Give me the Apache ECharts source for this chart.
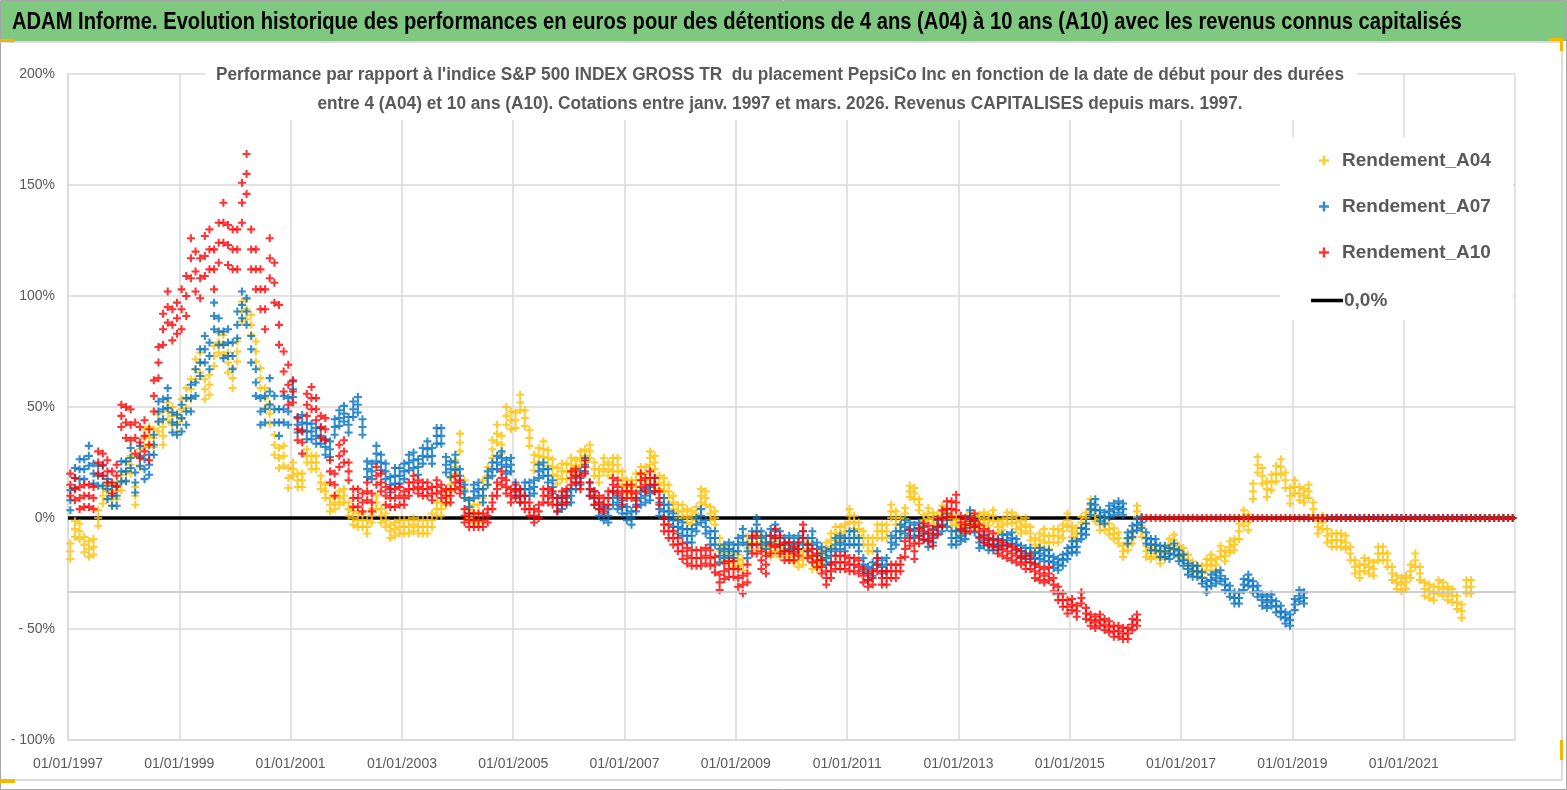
<!DOCTYPE html>
<html>
<head>
<meta charset="utf-8">
<title>ADAM Informe - PepsiCo vs S&amp;P 500</title>
<script src="https://cdn.jsdelivr.net/npm/echarts@6/dist/echarts.min.js"></script>
<style>
  html, body { margin: 0; padding: 0; background: #fff; }
  #chart { width: 1567px; height: 790px; }
</style>
</head>
<body>
<div id="chart"></div>
<script>
// monthly readings (in %), one row per year, starting January 1997
var startYear = 1997;

var rendA04 = [
  -15, -5, -6, -12, -14, -13, 0, 10, 12, 9, 12, 16,
  21, 24, 10, 27, 36, 37, 36, 43, 37, 48, 46, 43,
  49, 54, 58, 67, 70, 58, 60, 73, 79, 78, 70, 63,
  75, 93, 94, 87, 75, 63, 54, 47, 33, 27, 28, 18,
  22, 17, 17, 28, 25, 25, 16, 12, 6, 7, 9, 10,
  4, 0, -1, -1, -4, 1, 7, 1, -1, -6, -5, -4,
  -4, -4, -3, -4, -4, -4, -1, 4, 4, 9, 15, 23,
  34, 13, 4, 2, 2, 13, 19, 31, 38, 33, 46, 44,
  44, 52, 45, 36, 25, 28, 31, 27, 23, 19, 21, 21,
  24, 23, 27, 28, 30, 22, 19, 24, 22, 24, 24, 18,
  14, 14, 17, 20, 20, 27, 25, 16, 15, 12, 7, 3,
  3, 1, 0, 2, 10, 9, 2, 0, -12, -16, -17, -19,
  -19, -21, -11, -12, -9, -11, -13, -15, -13, -15, -14, -15,
  -17, -19, -18, -14, -20, -20, -18, -14, -10, -7, -7, -6,
  1, -2, -5, -9, -12, -12, -6, -6, -6, 3, 0, -3,
  2, 12, 11, 6, -1, 2, 0, -1, 3, 2, -1, -3,
  -6, -4, 0, -2, -1, 0, -1, 1, -4, -3, 0, 0,
  -2, -4, -3, -7, -12, -10, -8, -11, -8, -8, -6, -1,
  -6, -7, -2, 0, 6, 1, -3, -3, -5, -7, -9, -15,
  -12, -9, 3, -6, -15, -16, -15, -18, -16, -12, -10, -15,
  -16, -19, -22, -24, -24, -21, -19, -21, -15, -17, -13, -12,
  -6, 0, -2, 12, 24, 19, 13, 16, 20, 23, 17, 10,
  14, 11, 10, 12, 4, -4, -2, -8, -10, -10, -10, -11,
  -16, -22, -24, -21, -22, -23, -16, -16, -19, -25, -29, -30,
  -29, -24, -19, -25, -32, -33, -34, -31, -32, -34, -35, -38,
  -42, -31, -31
];
var tailA04 = [0, 0, 0, 0, 0, 0, 0, 0, 0];

var rendA07 = [
  8, 18, 22, 22, 28, 20, 19, 19, 13, 10, 10, 21,
  21, 27, 16, 28, 22, 24, 33, 48, 49, 54, 43, 42,
  45, 48, 54, 61, 70, 76, 73, 91, 84, 78, 79, 73,
  87, 96, 93, 76, 61, 48, 49, 57, 49, 43, 49, 48,
  58, 42, 43, 39, 39, 37, 37, 32, 31, 41, 45, 47,
  42, 49, 51, 41, 22, 21, 29, 25, 21, 15, 19, 19,
  21, 25, 26, 23, 28, 31, 28, 37, 37, 24, 22, 25,
  19, 12, 5, 12, 13, 10, 18, 22, 25, 27, 23, 24,
  13, 10, 13, 13, 14, 21, 22, 19, 14, 6, 7, 9,
  10, 16, 18, 24, 13, 9, 4, 2, 1, 9, 7, 5,
  2, 0, 6, 9, 10, 11, 15, 4, 6, 3, -1, -4,
  -5, -8, -8, -3, 1, -4, -9, -9, -17, -15, -14, -15,
  -12, -8, -15, -9, -3, -9, -11, -8, -6, -9, -12, -11,
  -12, -11, -9, -12, -9, -14, -16, -18, -17, -12, -11, -12,
  -9, -9, -12, -21, -25, -23, -18, -22, -21, -11, -9, -6,
  -4, -5, -6, -5, -7, -10, -8, -4, -3, -1, -9, -9,
  -8, -7, 1, -4, -11, -10, -12, -12, -12, -10, -10, -9,
  -12, -15, -16, -16, -18, -16, -17, -17, -20, -21, -19, -16,
  -13, -13, -7, -5, 4, 6, 1, 0, 3, 4, 5, 4,
  -9, -6, -3, -2, -9, -12, -12, -15, -15, -16, -14, -17,
  -19, -23, -24, -24, -27, -31, -28, -27, -26, -30, -33, -36,
  -36, -30, -28, -31, -33, -37, -38, -37, -40, -42, -45, -46,
  -39, -35, -36
];
var tailA07 = [
  0, 0, 0, 0, 0, 0, 0, 0, 0,
  0, 0, 0, 0, 0, 0, 0, 0, 0, 0, 0, 0,
  0, 0, 0, 0, 0, 0, 0, 0, 0, 0, 0, 0,
  0, 0, 0, 0, 0, 0, 0, 0, 0, 0, 0, 0
];

var rendA10 = [
  15, 13, 9, 10, 10, 9, 25, 24, 21, 16, 19, 46,
  43, 42, 36, 34, 37, 33, 55, 70, 85, 95, 87, 90,
  94, 100, 117, 111, 108, 118, 121, 112, 124, 133, 123, 121,
  121, 142, 155, 121, 112, 103, 94, 117, 106, 87, 66, 60,
  57, 40, 34, 51, 54, 49, 41, 40, 21, 15, 28, 30,
  21, 9, 9, 7, 12, 7, 19, 16, 10, 9, 9, 10,
  9, 13, 16, 14, 13, 13, 11, 14, 12, 10, 10, 16,
  14, 1, -1, -1, -1, -1, 1, 7, 13, 18, 14, 10,
  12, 10, 7, 4, 1, 3, 10, 10, 9, 6, 9, 10,
  18, 19, 16, 23, 13, 9, 7, 6, 9, 15, 14, 9,
  12, 12, 8, 17, 15, 18, 15, 9, -3, -6, -9, -12,
  -15, -17, -18, -18, -18, -17, -18, -21, -29, -24, -23, -23,
  -27, -30, -25, -12, -12, -19, -21, -12, -9, -12, -15, -15,
  -16, -14, -6, -15, -17, -19, -22, -27, -24, -20, -20, -20,
  -21, -21, -22, -26, -28, -27, -21, -27, -27, -24, -24, -21,
  -14, -9, -15, -8, -6, -7, -9, -4, 0, 4, 4, 7,
  -2, -3, -3, -1, -6, -8, -9, -10, -13, -14, -15, -16,
  -17, -18, -20, -20, -24, -25, -26, -25, -30, -34, -37, -40,
  -39, -42, -36, -43, -46, -47, -46, -48, -49, -51, -51, -52,
  -52, -48, -46
];
var tailA10 = [
  0, 0, 0, 0, 0, 0, 0, 0, 0,
  0, 0, 0, 0, 0, 0, 0, 0, 0, 0, 0, 0,
  0, 0, 0, 0, 0, 0, 0, 0, 0, 0, 0, 0,
  0, 0, 0, 0, 0, 0, 0, 0, 0, 0, 0, 0,
  0, 0, 0, 0, 0, 0, 0, 0, 0, 0, 0, 0,
  0, 0, 0, 0, 0, 0, 0, 0, 0, 0, 0, 0,
  0, 0, 0, 0, 0, 0, 0, 0, 0, 0, 0, 0
];

// half-height of the daily cloud around the monthly reading, per year (in %)
var bandA04 = [3.5, 4, 4.5, 4.5, 3, 3, 3, 4, 3.5, 3, 3, 3, 2.5, 3, 3, 2.5, 2.5, 3, 2.5, 2.5, 2.5, 3.5, 3, 3, 3, 3];
var bandA07 = [4.5, 4.5, 6, 6, 3.5, 3.5, 3.5, 3, 3, 3, 3, 3, 3, 3, 3, 3, 2.5, 2.5, 2.5, 2.5, 2.5, 2.5, 2.5];
var bandA10 = [5, 7, 9, 9, 5, 4, 3, 3, 3, 3, 3, 3.5, 4, 3, 3, 3.5, 3, 3, 2.5, 2.5];

var seriesNames = ['Rendement_A04', 'Rendement_A07', 'Rendement_A10'];
var zeroName = '0,0%';
var xTickLabels = ['01/01/1997', '01/01/1999', '01/01/2001', '01/01/2003', '01/01/2005',
  '01/01/2007', '01/01/2009', '01/01/2011', '01/01/2013', '01/01/2015',
  '01/01/2017', '01/01/2019', '01/01/2021', ''];
var yTickLabels = ['- 100%', '- 50%', '0%', '50%', '100%', '150%', '200%'];
var axisCross = -33.3;   // grey horizontal line in the picture

var mainTitle = 'ADAM Informe. Evolution historique des performances en euros pour des détentions de 4 ans (A04) à 10 ans (A10) avec les revenus connus capitalisés';
var subTitle1 = "Performance par rapport à l'indice S&P 500 INDEX GROSS TR  du placement PepsiCo Inc en fonction de la date de début pour des durées";
var subTitle2 = 'entre 4 (A04) et 10 ans (A10). Cotations entre janv. 1997 et mars. 2026. Revenus CAPITALISES depuis mars. 1997.';

var F = "'Liberation Sans', Arial, sans-serif";
var GREY = '#595959';
var PLUS = 'path://M3.7,0L6.3,0L6.3,3.7L10,3.7L10,6.3L6.3,6.3L6.3,10L3.7,10L3.7,6.3L0,6.3L0,3.7L3.7,3.7Z';

// x = years since 01/01/1997, one mark per month (plus the cloud edges when a band is given)
function buildPoints(vals, band, offset) {
  var pts = [];
  vals.forEach(function (v, i) {
    var k = offset + i;
    var x = (k + 0.5) / 12;
    pts.push([x, v]);
    if (band) {
      var w = band[Math.floor(k / 12)];
      pts.push([x, v + w]);
      pts.push([x, v - w]);
    }
  });
  return pts;
}
function seriesData(vals, band, tail) {
  return buildPoints(vals, band, 0).concat(buildPoints(tail, null, vals.length));
}

var myChart = echarts.init(document.getElementById('chart'));
var option = {
  animation: false,
  backgroundColor: '#fff',
  grid: { left: 68, right: 52, top: 74, bottom: 50 },
  legend: [{
    data: seriesNames,
    orient: 'vertical',
    left: 1314, top: 146,
    itemWidth: 10, itemHeight: 10, itemGap: 27,
    textStyle: { fontFamily: F, fontSize: 19, fontWeight: 'bold', color: GREY, padding: [0, 0, 0, 8] }
  }, {
    data: [{ name: zeroName, icon: 'path://M0,0L36,0L36,4L0,4Z' }],
    left: 1306, top: 286,
    itemWidth: 32, itemHeight: 4,
    textStyle: { fontFamily: F, fontSize: 19, fontWeight: 'bold', color: GREY, padding: [0, 0, 0, -4] }
  }],
  xAxis: {
    type: 'value', min: 0, max: 26, interval: 2,
    axisLine: { show: true, onZero: false, lineStyle: { color: '#D9D9D9', width: 1.5 } },
    axisTick: { show: false },
    splitLine: { show: true, lineStyle: { color: '#D9D9D9', width: 1.5 } },
    axisLabel: {
      margin: 17, fontFamily: F, fontSize: 14, color: GREY,
      formatter: function (v) { return xTickLabels[Math.round(v / 2)] || ''; }
    }
  },
  yAxis: {
    type: 'value', min: -100, max: 200, interval: 50,
    axisLine: { show: true, lineStyle: { color: '#D9D9D9', width: 1.5 } },
    axisTick: { show: false },
    splitLine: { lineStyle: { color: '#D9D9D9', width: 1.5 } },
    axisLabel: {
      margin: 13, fontFamily: F, fontSize: 14, color: GREY,
      formatter: function (v) { return yTickLabels[Math.round((v + 100) / 50)]; }
    }
  },
  series: [{
    name: zeroName, type: 'line', z: 1,
    data: [[0, 0], [26, 0]],
    symbol: 'none',
    lineStyle: { color: '#000', width: 3.5 },
    itemStyle: { color: '#000' },
    markLine: {
      silent: true, symbol: 'none', label: { show: false },
      lineStyle: { color: '#BFBFBF', width: 1.5, type: 'solid' },
      data: [{ yAxis: axisCross }]
    }
  }, {
    name: seriesNames[0], type: 'scatter', z: 2,
    data: seriesData(rendA04, bandA04, tailA04), symbol: PLUS, symbolSize: 8,
    itemStyle: { color: '#FFC000' }
  }, {
    name: seriesNames[1], type: 'scatter', z: 3,
    data: seriesData(rendA07, bandA07, tailA07), symbol: PLUS, symbolSize: 8,
    itemStyle: { color: '#0070C0' }
  }, {
    name: seriesNames[2], type: 'scatter', z: 4,
    data: seriesData(rendA10, bandA10, tailA10), symbol: PLUS, symbolSize: 8,
    itemStyle: { color: '#FF0000' }
  }],
  graphic: [
    { type: 'rect', z: 0, shape: { x: 0.5, y: 0.5, width: 1566, height: 789 }, style: { fill: 'none', stroke: '#A6A6A6', lineWidth: 1 } },
    { type: 'rect', z: 1, shape: { x: 1, y: 1, width: 1565, height: 40 }, style: { fill: '#7EC97F' } },
    { type: 'line', z: 1, shape: { x1: 0, y1: 42, x2: 1562, y2: 42 }, style: { stroke: '#D0D0D0', lineWidth: 1.5 } },
    { type: 'line', z: 1, shape: { x1: 1562, y1: 42, x2: 1562, y2: 780 }, style: { stroke: '#D0D0D0', lineWidth: 1.5 } },
    { type: 'line', z: 1, shape: { x1: 0, y1: 780, x2: 1562, y2: 780 }, style: { stroke: '#D0D0D0', lineWidth: 1.5 } },
    {
      type: 'text', z: 2, x: 12, y: 22, scaleX: 0.84,
      style: { text: mainTitle, fontFamily: F, fontSize: 24, fontWeight: 'bold', fill: '#000', verticalAlign: 'middle' }
    },
    { type: 'rect', z: 2, shape: { x: 0, y: 39, width: 15, height: 3 }, style: { fill: '#F5B800' } },
    { type: 'rect', z: 2, shape: { x: 1549, y: 38, width: 14, height: 3 }, style: { fill: '#F5B800' } },
    { type: 'rect', z: 2, shape: { x: 1560, y: 38, width: 3, height: 13 }, style: { fill: '#F5B800' } },
    { type: 'rect', z: 2, shape: { x: 1560, y: 740, width: 3, height: 20 }, style: { fill: '#F5B800' } },
    { type: 'rect', z: 2, shape: { x: 0, y: 779, width: 15, height: 4 }, style: { fill: '#F5B800' } },
    // white box behind the subtitle
    { type: 'rect', z: 3, shape: { x: 205, y: 62, width: 1152, height: 58 }, style: { fill: '#fff' } },
    {
      type: 'text', z: 4, x: 780, y: 75, scaleX: 0.958,
      style: { text: subTitle1, fontFamily: F, fontSize: 18, fontWeight: 'bold', fill: GREY, align: 'center', verticalAlign: 'middle' }
    },
    {
      type: 'text', z: 4, x: 780, y: 104, scaleX: 0.958,
      style: { text: subTitle2, fontFamily: F, fontSize: 18, fontWeight: 'bold', fill: GREY, align: 'center', verticalAlign: 'middle' }
    },
    // white box behind the legend
    { type: 'rect', z: 3, shape: { x: 1280, y: 137, width: 233, height: 183 }, style: { fill: '#fff' } }
  ]
};
myChart.setOption(option);
</script>
</body>
</html>
